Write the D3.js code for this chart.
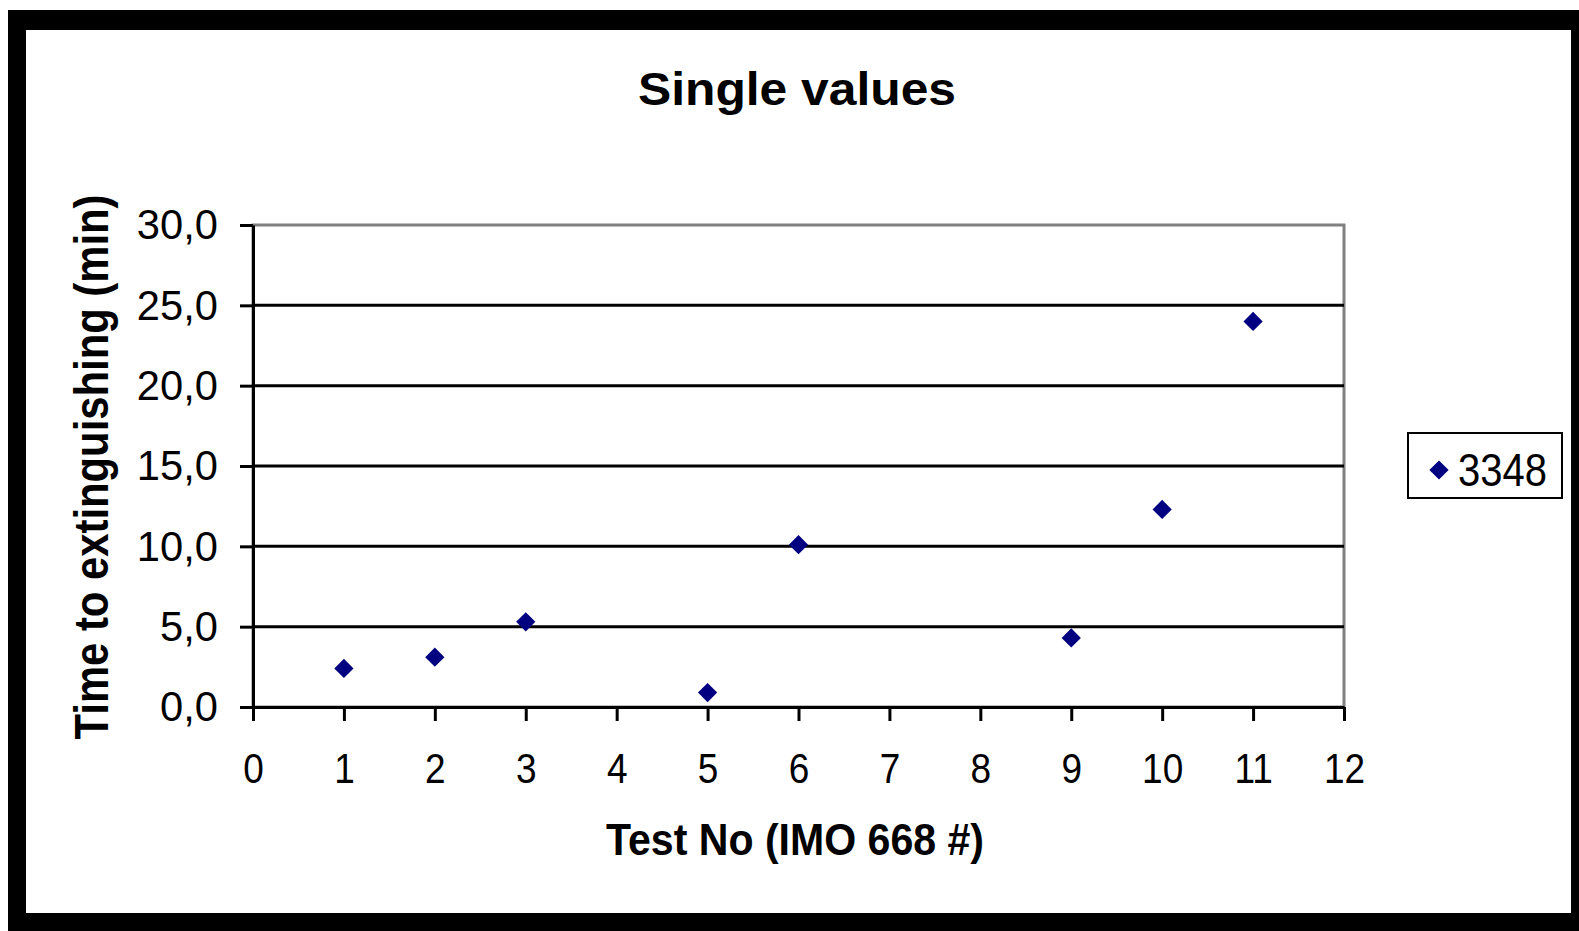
<!DOCTYPE html>
<html>
<head>
<meta charset="utf-8">
<script src="https://cdn.jsdelivr.net/npm/d3@7"></script>
<style>
  body { margin: 0; background: #fff; }
  svg { display: block; }
  text { font-family: "Liberation Sans", Arial, sans-serif; }
</style>
</head>
<body>
<div id="chart"></div>
<script>
// data
const testNo = [1, 2, 3, 5, 6, 9, 10, 11];
const timeToExt = [2.4, 3.1, 5.3, 0.9, 10.1, 4.3, 12.3, 24.0];
const xTicks = [0, 1, 2, 3, 4, 5, 6, 7, 8, 9, 10, 11, 12];
const yTicks = [0, 5, 10, 15, 20, 25, 30];
const seriesName = '3348';

const W = 1579, H = 931;
const plot = { left: 253, right: 1344, top: 225, bottom: 707 };

const svg = d3.select('#chart').append('svg')
    .attr('width', W)
    .attr('height', H);

// black outer frame
svg.append('rect')
    .attr('x', 8).attr('y', 10)
    .attr('width', W - 8).attr('height', H - 10)
    .attr('fill', '#000');
svg.append('rect')
    .attr('x', 26).attr('y', 30)
    .attr('width', 1571 - 26).attr('height', 913 - 30)
    .attr('fill', '#fff');

const x = d3.scaleLinear().domain([0, 12]).range([plot.left, plot.right]);
const y = d3.scaleLinear().domain([0, 30]).range([plot.bottom, plot.top]);

// plot area border (grey top/right)
svg.append('rect')
    .attr('x', plot.left).attr('y', plot.top)
    .attr('width', plot.right - plot.left)
    .attr('height', plot.bottom - plot.top)
    .attr('fill', '#fff')
    .attr('stroke', '#808080')
    .attr('stroke-width', 3);

// gridlines
svg.append('g')
    .selectAll('line')
    .data(yTicks.filter(d => d > 0 && d < 30))
    .enter()
    .append('line')
    .attr('x1', plot.left)
    .attr('x2', plot.right)
    .attr('y1', d => y(d))
    .attr('y2', d => y(d))
    .attr('stroke', '#000')
    .attr('stroke-width', 3);

const xAxis = d3.axisBottom(x)
    .tickValues(xTicks)
    .tickSize(14)
    .tickSizeOuter(0)
    .tickPadding(31)
    .tickFormat(d3.format('d'));

const gx = svg.append('g')
    .attr('transform', 'translate(0,' + plot.bottom + ')')
    .call(xAxis);

const yAxis = d3.axisLeft(y)
    .tickValues(yTicks)
    .tickSize(13)
    .tickSizeOuter(0)
    .tickPadding(22)
    .tickFormat(d => d.toFixed(1).replace('.', ','));

const gy = svg.append('g')
    .attr('transform', 'translate(' + plot.left + ',0)')
    .call(yAxis);

// the original face is narrow and light: squeeze the labels a bit
[[gx, 0.86], [gy, 0.97]].forEach(([g, squeeze]) => {
    g.selectAll('path').attr('stroke', '#000').attr('stroke-width', 3);
    g.selectAll('line').attr('stroke', '#000').attr('stroke-width', 3);
    g.selectAll('text')
        .style('font-size', '43px')
        .style('fill', '#000')
        .each(function() {
            const w = this.getComputedTextLength();
            d3.select(this)
                .attr('textLength', w * squeeze)
                .attr('lengthAdjust', 'spacingAndGlyphs');
        });
});

// markers
const diamond = d3.symbol().type(d3.symbolSquare).size(185);
svg.append('g')
    .selectAll('path')
    .data(testNo.map((t, i) => ({ t: t, v: timeToExt[i] })))
    .enter()
    .append('path')
    .attr('d', diamond)
    .attr('transform', d => 'translate(' + x(d.t) + ',' + y(d.v) + ') rotate(45)')
    .attr('fill', '#000080');

// title
svg.append('text')
    .attr('x', 797)
    .attr('y', 105)
    .attr('text-anchor', 'middle')
    .attr('textLength', 318)
    .attr('lengthAdjust', 'spacingAndGlyphs')
    .style('font-size', '46px')
    .style('font-weight', 'bold')
    .text('Single values');

// x axis title
svg.append('text')
    .attr('x', 795)
    .attr('y', 855)
    .attr('text-anchor', 'middle')
    .attr('textLength', 378)
    .attr('lengthAdjust', 'spacingAndGlyphs')
    .style('font-size', '44px')
    .style('font-weight', 'bold')
    .text('Test No (IMO 668 #)');

// y axis title
svg.append('text')
    .attr('transform', 'translate(108,467) rotate(-90)')
    .attr('text-anchor', 'middle')
    .attr('textLength', 545)
    .attr('lengthAdjust', 'spacingAndGlyphs')
    .style('font-size', '48px')
    .style('font-weight', 'bold')
    .text('Time to extinguishing (min)');

// legend
const legend = svg.append('g').attr('transform', 'translate(1408,433)');
legend.append('rect')
    .attr('width', 154)
    .attr('height', 65)
    .attr('fill', '#fff')
    .attr('stroke', '#000')
    .attr('stroke-width', 2);
legend.append('path')
    .attr('d', diamond)
    .attr('transform', 'translate(31,37) rotate(45)')
    .attr('fill', '#000080');
legend.append('text')
    .attr('x', 50)
    .attr('y', 53)
    .attr('textLength', 89)
    .attr('lengthAdjust', 'spacingAndGlyphs')
    .style('font-size', '46px')
    .text(seriesName);
</script>
</body>
</html>
